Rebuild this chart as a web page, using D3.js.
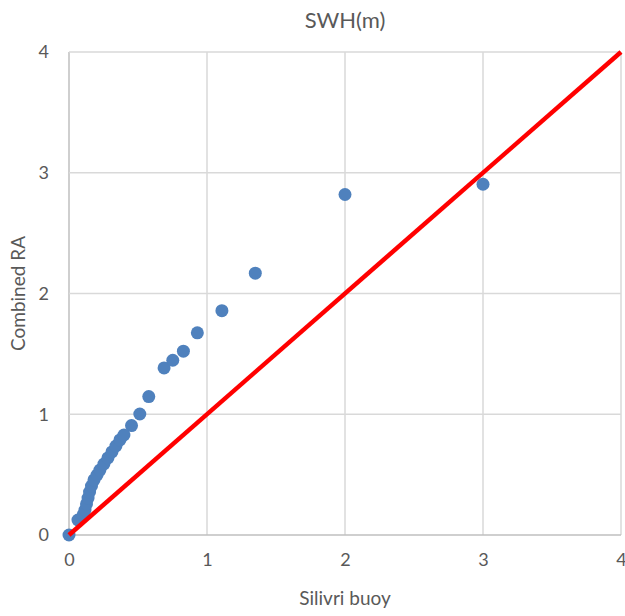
<!DOCTYPE html>
<html>
<head>
<meta charset="utf-8">
<script src="https://cdn.jsdelivr.net/npm/d3@7"></script>
<style>
  body { margin: 0; background: #fff; }
  text { font-family: Lato, "Open Sans", sans-serif; fill: #595959; }
</style>
</head>
<body>
<svg id="chart"></svg>
<script>
// buoy SWH (x) vs combined RA SWH (y)
const buoy = [0, 0.065, 0.102, 0.116, 0.127, 0.138, 0.149, 0.163, 0.181, 0.203,
  0.224, 0.253, 0.282, 0.311, 0.340, 0.369, 0.398, 0.453, 0.513, 0.578,
  0.689, 0.752, 0.829, 0.930, 1.108, 1.350, 2.0, 3.0];
const ra = [0, 0.124, 0.166, 0.207, 0.257, 0.306, 0.356, 0.406, 0.456, 0.497,
  0.538, 0.588, 0.638, 0.688, 0.737, 0.787, 0.828, 0.906, 1.002, 1.146,
  1.384, 1.447, 1.522, 1.674, 1.858, 2.168, 2.82, 2.905];
const refLine = [0, 4];
const ticks = [0, 1, 2, 3, 4];

const margin = {left: 69, top: 52, right: 4, bottom: 81};
const width = 625, height = 616;
const w = width - margin.left - margin.right;
const h = height - margin.top - margin.bottom;

const svg = d3.select("#chart")
  .attr("width", width)
  .attr("height", height);

const g = svg.append("g")
  .attr("transform", `translate(${margin.left}, ${margin.top})`);

const x = d3.scaleLinear().domain([0, 4]).range([0, w]);
const y = d3.scaleLinear().domain([0, 4]).range([h, 0]);

// gridlines
g.append("g").selectAll("line")
  .data(ticks)
  .enter().append("line")
    .attr("x1", d => x(d)).attr("x2", d => x(d))
    .attr("y1", 0).attr("y2", h)
    .attr("stroke", d => d === 0 ? "#bfbfbf" : "#d9d9d9")
    .attr("stroke-width", 1.5);

g.append("g").selectAll("line")
  .data(ticks)
  .enter().append("line")
    .attr("y1", d => y(d)).attr("y2", d => y(d))
    .attr("x1", 0).attr("x2", w)
    .attr("stroke", d => d === 0 ? "#bfbfbf" : "#d9d9d9")
    .attr("stroke-width", 1.5);

// tick labels
const xAxis = g.append("g")
  .attr("transform", "translate(0," + h + ")")
  .call(d3.axisBottom(x).tickValues(ticks).tickSize(0).tickPadding(18).tickFormat(d3.format("d")));
const yAxis = g.append("g")
  .call(d3.axisLeft(y).tickValues(ticks).tickSize(0).tickPadding(20).tickFormat(d3.format("d")));
[xAxis, yAxis].forEach(a => {
  a.select(".domain").remove();
  a.selectAll("text").style("font-size", "18px").attr("fill", "#595959")
    .style("font-family", "Lato, sans-serif");
});

// points
g.append("g").selectAll("circle")
  .data(buoy)
  .enter().append("circle")
    .attr("cx", d => x(d))
    .attr("cy", (d, i) => y(ra[i]))
    .attr("r", 6.5)
    .attr("fill", "#4f81bd");

// 1:1 line
g.append("line")
  .attr("x1", x(refLine[0])).attr("y1", y(refLine[0]))
  .attr("x2", x(refLine[1])).attr("y2", y(refLine[1]))
  .attr("stroke", "#ff0000")
  .attr("stroke-width", 4.5);

// titles
svg.append("text")
  .attr("x", margin.left + w / 2)
  .attr("y", 28)
  .attr("text-anchor", "middle")
  .style("font-size", "22px")
  .text("SWH(m)");

svg.append("text")
  .attr("x", margin.left + w / 2)
  .attr("y", 605)
  .attr("text-anchor", "middle")
  .style("font-size", "19px")
  .text("Silivri buoy");

svg.append("text")
  .attr("transform", "rotate(-90)")
  .attr("x", -(margin.top + h / 2))
  .attr("y", 25)
  .attr("text-anchor", "middle")
  .style("font-size", "19px")
  .text("Combined RA");
</script>
</body>
</html>
